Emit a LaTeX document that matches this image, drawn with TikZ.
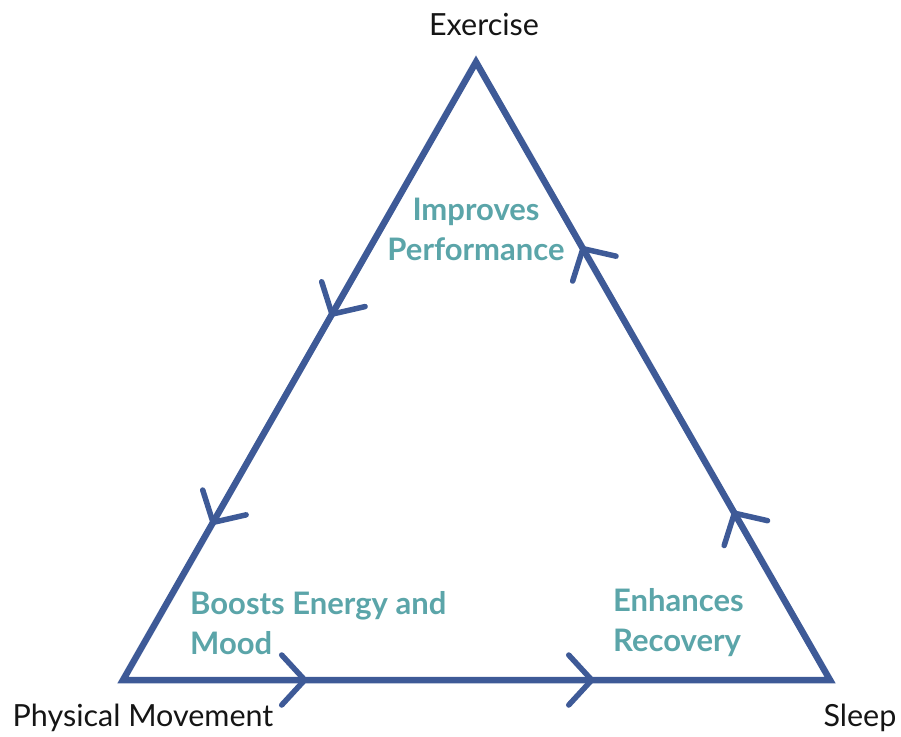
\documentclass[tikz,border=0pt]{standalone}
\usepackage{fontspec}
\setmainfont{Lato}
\usetikzlibrary{positioning,decorations.markings}
\definecolor{edgeblue}{HTML}{3E5A97}
\definecolor{labelteal}{HTML}{5BA5A9}
\definecolor{cornertext}{HTML}{151515}
\tikzset{
  edge/.style={draw=edgeblue, line width=6.5pt, line join=miter},
  chev/.style={draw=edgeblue, line width=5.5pt, line cap=round, line join=round},
  corner/.style={text=cornertext, font=\fontsize{30.5}{34}\selectfont, inner sep=0pt},
  effect/.style={text=labelteal, font=\bfseries\fontsize{31}{40}\selectfont, inner sep=0pt},
  flow at/.style 2 args={decoration={markings,
      mark=at position #1 with {\draw[chev] (-23pt,25pt) -- (0pt,0pt) -- (-23pt,-25pt);},
      mark=at position #2 with {\draw[chev] (-23pt,25pt) -- (0pt,0pt) -- (-23pt,-25pt);}},
    postaction={decorate}}
}
\begin{document}
\begin{tikzpicture}[x=1pt,y=-1pt]
  \useasboundingbox (0,0) rectangle (901,736);
  % corners of the triangle
  \coordinate (ex) at (476,62);
  \coordinate (pm) at (123,680);
  \coordinate (sl) at (830,680);
  \draw[edge] (ex) -- (pm) -- (sl) -- cycle;
  % direction of the cycle
  \path[flow at={0.408}{0.745}] (ex) -- (pm);
  \path[flow at={0.257}{0.663}] (pm) -- (sl);
  \path[flow at={0.27}{0.698}] (sl) -- (ex);
  % corner labels
  \node[corner] (exlabel) at (484,24) {Exercise};
  \node[corner] (pmlabel) at (143,718) {Physical Movement};
  \node[corner] (sllabel) at (860,718) {Sleep};
  % effect labels
  \node[effect, align=center] (perf) at (476,229) {Improves\\Performance};
  \node[effect, align=left, anchor=west] (mood) at (190,623) {Boosts Energy and\\Mood};
  \node[effect, align=left, anchor=west] (recov) at (613,623) {Enhances\\Recovery};
\end{tikzpicture}
\end{document}
